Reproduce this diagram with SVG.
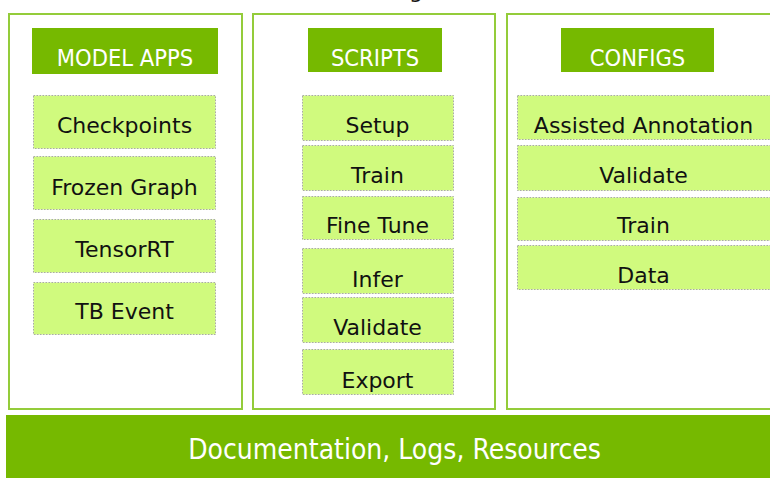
<svg xmlns="http://www.w3.org/2000/svg" width="770" height="478" viewBox="0 0 770 478">
<style>
.panel{fill:#ffffff;stroke:#94cc3a;stroke-width:2}
.hdr{fill:#76b900}
.hdrt{fill:#ffffff;font-family:"DejaVu Sans Condensed","DejaVu Sans",sans-serif;font-stretch:condensed;font-size:23.5px;text-anchor:middle}
.item{fill:#d0fa7e;stroke:#a9a9a9;stroke-width:1;stroke-dasharray:1.5 1.5}
.it{fill:#111111;font-family:"DejaVu Sans",sans-serif;font-size:22px;text-anchor:middle}
.bar{fill:#76b900}
.bart{fill:#ffffff;font-family:"DejaVu Sans Condensed","DejaVu Sans",sans-serif;font-stretch:condensed;font-size:28px;text-anchor:middle}
</style>
<rect width="770" height="478" fill="#ffffff"/>
<text x="416" y="-2" class="it" font-size="26">g</text>
<g id="panel-model-apps">
<rect class="panel" x="9" y="14" width="233" height="395"/>
<rect class="hdr" x="32" y="28" width="186" height="46"/>
<text class="hdrt" x="125" y="66">MODEL APPS</text>
</g>
<g id="checkpoints"><rect class="item" x="33.5" y="95.5" width="182" height="53"/><text class="it" x="124.5" y="133">Checkpoints</text></g>
<g id="frozen-graph"><rect class="item" x="33.5" y="156.5" width="182" height="53"/><text class="it" x="124.5" y="195">Frozen Graph</text></g>
<g id="tensorrt"><rect class="item" x="33.5" y="219.5" width="182" height="53"/><text class="it" x="124.5" y="257">TensorRT</text></g>
<g id="tb-event"><rect class="item" x="33.5" y="282.5" width="182" height="52"/><text class="it" x="124.5" y="319">TB Event</text></g>
<g id="panel-scripts">
<rect class="panel" x="253" y="14" width="242" height="395"/>
<rect class="hdr" x="308" y="28" width="134" height="44"/>
<text class="hdrt" x="375" y="66">SCRIPTS</text>
</g>
<g id="setup"><rect class="item" x="302.5" y="95.5" width="151" height="45"/><text class="it" x="377.5" y="133">Setup</text></g>
<g id="train"><rect class="item" x="302.5" y="145.5" width="151" height="45"/><text class="it" x="377.5" y="183">Train</text></g>
<g id="fine-tune"><rect class="item" x="302.5" y="196.5" width="151" height="43"/><text class="it" x="377.5" y="233">Fine Tune</text></g>
<g id="infer"><rect class="item" x="302.5" y="248.5" width="151" height="45"/><text class="it" x="377.5" y="287">Infer</text></g>
<g id="validate-script"><rect class="item" x="302.5" y="297.5" width="151" height="45"/><text class="it" x="377.5" y="335">Validate</text></g>
<g id="export"><rect class="item" x="302.5" y="349.5" width="151" height="45"/><text class="it" x="377.5" y="388">Export</text></g>
<g id="panel-configs">
<rect class="panel" x="507" y="14" width="270" height="395"/>
<rect class="hdr" x="561" y="28" width="153" height="44"/>
<text class="hdrt" x="637.5" y="66">CONFIGS</text>
</g>
<g id="assisted-annotation"><rect class="item" x="517.5" y="95.5" width="260" height="44"/><text class="it" x="643.5" y="133">Assisted Annotation</text></g>
<g id="validate-config"><rect class="item" x="517.5" y="145.5" width="260" height="45"/><text class="it" x="643.5" y="183">Validate</text></g>
<g id="train-config"><rect class="item" x="517.5" y="197.5" width="260" height="43"/><text class="it" x="643.5" y="233">Train</text></g>
<g id="data"><rect class="item" x="517.5" y="245.5" width="260" height="44"/><text class="it" x="643.5" y="283">Data</text></g>
<g id="documentation-bar">
<rect class="bar" x="6" y="415" width="770" height="70"/>
<text class="bart" x="394.5" y="459">Documentation, Logs, Resources</text>
</g>
<g id="connectors"></g>
</svg>
